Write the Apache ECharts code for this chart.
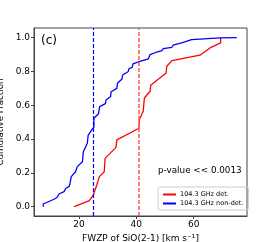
<!DOCTYPE html>
<html><head><meta charset="utf-8">
<script src="https://cdn.jsdelivr.net/npm/echarts@6/dist/echarts.min.js"></script>
<style>html,body{margin:0;padding:0;background:#fff}#c{width:274px;height:242px}</style>
</head><body><div id="c"></div>
<script>
const xTicks = [20, 40, 60];
const yTicks = [0, 0.2, 0.4, 0.6, 0.8, 1.0];
const detX = [18.3,23.6,25.0,26.2,27.1,28.8,29.1,32.9,33.2,40.9,41.0,42.4,42.8,44.8,45.0,50.4,50.6,52.4,62.2,65.7,69.4,69.4];
const detY = [0.0,0.036,0.069,0.128,0.178,0.207,0.286,0.351,0.395,0.464,0.513,0.564,0.643,0.683,0.718,0.791,0.831,0.864,0.896,0.939,0.969,1.0];
const nonX = [7.5,7.5,11.3,12.4,13.0,14.8,15.4,16.6,16.9,17.3,18.8,19.4,21.2,21.5,22.9,23.2,24.6,25.2,25.2,26.8,27.2,29.2,29.4,31.0,31.2,33.2,33.4,35.0,35.2,37.2,37.4,38.6,38.8,41.3,44.2,44.8,47.1,48.9,49.4,52.4,52.8,55.8,56.4,59.3,69.2,75.0];
const nonY = [0.0,0.016,0.044,0.056,0.075,0.089,0.109,0.12,0.142,0.178,0.207,0.237,0.266,0.325,0.375,0.424,0.458,0.47,0.523,0.55,0.592,0.61,0.631,0.65,0.68,0.70,0.73,0.755,0.779,0.80,0.815,0.825,0.845,0.86,0.875,0.90,0.915,0.923,0.935,0.943,0.955,0.969,0.978,0.988,0.998,1.0];
const detMedian = 41;
const nonMedian = 25;
const names = ['104.3 GHz det.', '104.3 GHz non-det.'];

const FONT = 'DejaVu Sans';
const chart = echarts.init(document.getElementById('c'), null, {renderer: 'canvas'});
const pair = (xs, ys) => xs.map((x, i) => [x, ys[i]]);
chart.setOption({
  animation: false,
  grid: {left: 34, right: 27, top: 28, bottom: 26, show: true, borderColor: '#444', borderWidth: 1,
    containLabel: false, outerBoundsMode: 'none'},
  xAxis: {
    type: 'value', min: 4.3, max: 78.6,
    splitLine: {show: false},
    axisLine: {show: true, onZero: false, lineStyle: {color: '#444'}},
    axisTick: {show: true, length: 3, lineStyle: {color: '#444'}, customValues: xTicks},
    axisLabel: {customValues: xTicks, color: '#000', fontFamily: FONT, fontSize: 9, margin: 4},
    name: 'FWZP of SiO(2-1) [km s⁻¹]', nameLocation: 'middle', nameGap: 17,
    nameTextStyle: {color: '#000', fontFamily: FONT, fontSize: 9}
  },
  yAxis: {
    type: 'value', min: -0.055, max: 1.057,
    splitLine: {show: false},
    axisLine: {show: true, onZero: false, lineStyle: {color: '#444'}},
    axisTick: {show: true, length: 3, lineStyle: {color: '#444'}, customValues: yTicks},
    axisLabel: {customValues: yTicks, color: '#000', fontFamily: FONT, fontSize: 9, margin: 4,
      formatter: v => v.toFixed(1)},
    name: 'Cumulative Fraction', nameLocation: 'middle', nameGap: 20,
    nameTextStyle: {color: '#000', fontFamily: FONT, fontSize: 8.7}
  },
  legend: {
    left: 158, top: 187, orient: 'vertical', itemGap: 2, itemWidth: 13, itemHeight: 2,
    padding: [4, 5, 3, 5], borderColor: '#ccc', borderWidth: 1, borderRadius: 2,
    icon: 'rect', data: names,
    textStyle: {fontFamily: FONT, fontSize: 6.5, color: '#000', padding: [0, 0, 0, -1]}
  },
  series: [
    {name: names[0], type: 'line', data: pair(detX, detY), showSymbol: false,
      lineStyle: {color: '#ff0000', width: 1.3}, itemStyle: {color: '#ff0000'},
      markLine: {silent: true, symbol: 'none', label: {show: false},
        lineStyle: {color: '#ff6060', type: [4, 2], width: 1.6}, data: [{xAxis: detMedian}]}},
    {name: names[1], type: 'line', data: pair(nonX, nonY), showSymbol: false,
      lineStyle: {color: '#0000ff', width: 1.3}, itemStyle: {color: '#0000ff'},
      markLine: {silent: true, symbol: 'none', label: {show: false},
        lineStyle: {color: '#0000ff', type: [4, 2], width: 1.2}, data: [{xAxis: nonMedian}]}}
  ],
  graphic: [
    {type: 'text', left: 41, top: 35, style: {text: '(c)', font: '12px "DejaVu Sans"', fill: '#000'}},
    {type: 'text', left: 158, top: 166, style: {text: 'p-value << 0.0013', font: '8.8px "DejaVu Sans"', fill: '#000'}}
  ]
});
</script></body></html>
